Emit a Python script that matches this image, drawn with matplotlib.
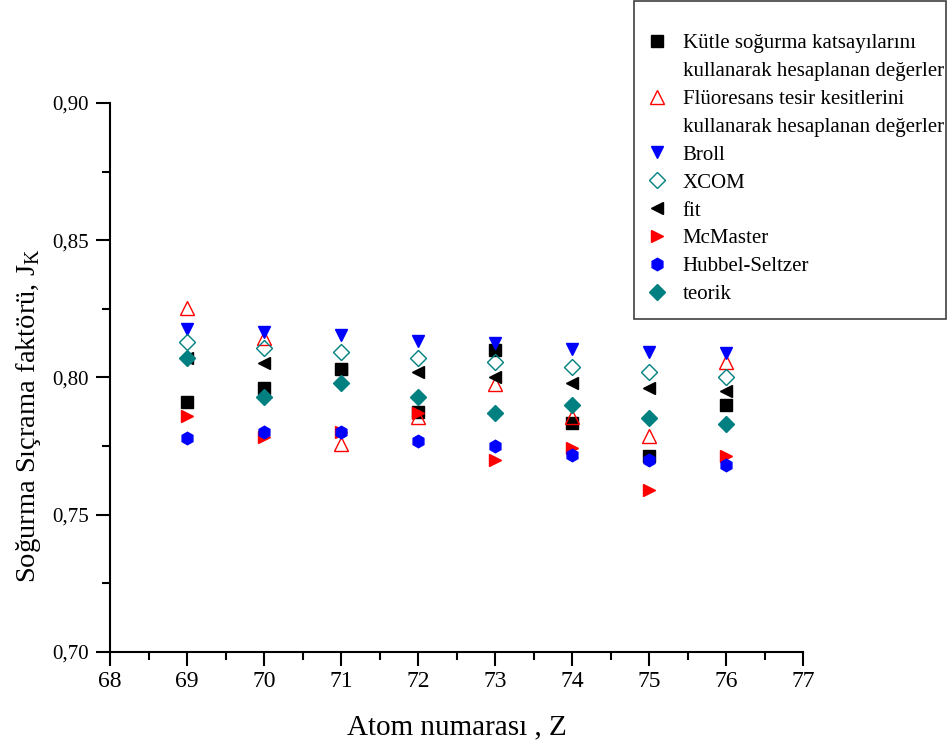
import matplotlib
matplotlib.use("Agg")
import matplotlib.pyplot as plt
from matplotlib.lines import Line2D
from matplotlib.patches import Rectangle
from matplotlib.ticker import MultipleLocator, FuncFormatter

# Atomic numbers
Z = [69, 70, 71, 72, 73, 74, 75, 76]

# K-shell absorption jump factors from each source
kutle = [0.791, 0.796, 0.803, 0.7875, 0.810, 0.7835, 0.7715, 0.790]
floresans = [0.8255, 0.8145, 0.7758, 0.7857, 0.7975, 0.7855, 0.7787, 0.8058]
broll = [0.8177, 0.8167, 0.8155, 0.8134, 0.8125, 0.8103, 0.8094, 0.8088]
xcom = [0.813, 0.8109, 0.8092, 0.807, 0.8058, 0.804, 0.8019, 0.8001]
fit = [0.807, 0.8052, 0.803, 0.8019, 0.8001, 0.7981, 0.796, 0.7951]
mcmaster = [0.786, 0.7784, 0.780, 0.7872, 0.770, 0.7742, 0.759, 0.7714]
hubbel = [0.778, 0.780, 0.780, 0.777, 0.775, 0.7718, 0.770, 0.7681]
teorik = [0.807, 0.793, 0.798, 0.793, 0.787, 0.790, 0.7851, 0.7831]

labels = [
    "Kütle soğurma katsayılarını\nkullanarak hesaplanan değerler",
    "Flüoresans tesir kesitlerini\nkullanarak hesaplanan değerler",
    "Broll",
    "XCOM",
    "fit",
    "McMaster",
    "Hubbel-Seltzer",
    "teorik",
]

plt.rcParams["font.family"] = ["Liberation Serif", "DejaVu Serif"]
plt.rcParams["mathtext.fontset"] = "custom"
plt.rcParams["mathtext.rm"] = "Liberation Serif"

W, H = 949, 749
fig = plt.figure(figsize=(W / 100, H / 100), dpi=100)
ax = fig.add_axes([110 / W, 1 - 652 / H, (803 - 110) / W, (652 - 103) / H])

teal = "#008080"
series = [
    (kutle, dict(marker="s", color="black", mfc="black", ms=8)),
    (floresans, dict(marker="^", color="red", mfc="none", ms=9.5, mew=1.0)),
    (broll, dict(marker="v", color="blue", mfc="blue", ms=9)),
    (xcom, dict(marker="D", color=teal, mfc="none", ms=8, mew=1.0)),
    (fit, dict(marker="<", color="black", mfc="black", ms=9)),
    (mcmaster, dict(marker=">", color="red", mfc="red", ms=9)),
    (hubbel, dict(marker="h", color="blue", mfc="blue", ms=9)),
    (teorik, dict(marker="D", color=teal, mfc=teal, ms=8)),
]

# Each label line gets its own legend row so all rows share one pitch;
# continuation lines carry an empty handle.
leg_handles, leg_labels = [], []
for (vals, style), lab in zip(series, labels):
    (h,) = ax.plot(Z, vals, linestyle="none", label=lab, **style)
    lines = lab.split("\n")
    leg_handles.append(h)
    leg_labels.append(lines[0])
    for extra in lines[1:]:
        leg_handles.append(Line2D([], [], linestyle="none", marker=None))
        leg_labels.append(extra)

ax.set_xlim(68, 77)
ax.set_ylim(0.70, 0.90)
ax.xaxis.set_major_locator(MultipleLocator(1))
ax.xaxis.set_minor_locator(MultipleLocator(0.5))
ax.yaxis.set_major_locator(MultipleLocator(0.05))
ax.yaxis.set_minor_locator(MultipleLocator(0.025))
ax.yaxis.set_major_formatter(FuncFormatter(lambda v, p: f"{v:.2f}".replace(".", ",")))

for s in ("top", "right"):
    ax.spines[s].set_visible(False)
for s in ("left", "bottom"):
    ax.spines[s].set_linewidth(1.5)

ax.tick_params(which="both", direction="out", width=1.5, color="black")
ax.tick_params(which="major", length=10)
ax.tick_params(which="minor", length=6)
ax.tick_params(axis="x", labelsize=17, pad=4)
ax.tick_params(axis="y", labelsize=15, pad=5)

ax.set_xlabel("Atom numarası , Z", fontsize=21, labelpad=16)
ax.set_ylabel(r"Soğurma Sıçrama faktörü, J$_\mathrm{K}$", fontsize=20.5, labelpad=7)
ax.yaxis.label.set_y(0.43)

# Legend box outline drawn in figure pixels
fig.patches.append(
    Rectangle((634 / W, 1 - 319 / H), (946 - 634) / W, (319 - 1) / H,
              transform=fig.transFigure, fill=False, edgecolor="#404040",
              linewidth=1.2, zorder=5)
)

leg = fig.legend(
    handles=leg_handles,
    labels=leg_labels,
    loc="upper left",
    bbox_to_anchor=(640 / W, 1 - 33.5 / H),
    bbox_transform=fig.transFigure,
    fontsize=15,
    frameon=False,
    borderpad=0,
    labelspacing=0.40,
    handlelength=1.6,
    handletextpad=0.45,
    borderaxespad=0,
    markerscale=1.0,
)

fig.savefig("out.png", dpi=100)
